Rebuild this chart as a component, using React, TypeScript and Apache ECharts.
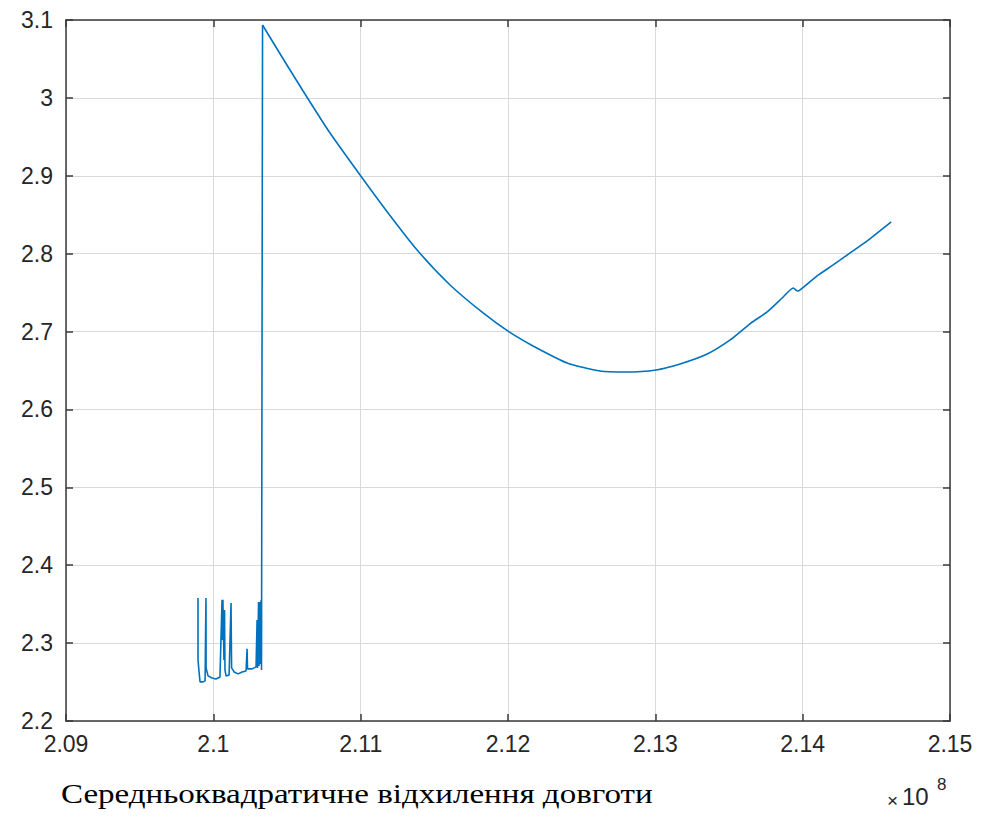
import React, { useEffect, useRef } from "react";
import * as echarts from "echarts";

const xTicks = [2.09, 2.1, 2.11, 2.12, 2.13, 2.14, 2.15];
const yTicks = [2.2, 2.3, 2.4, 2.5, 2.6, 2.7, 2.8, 2.9, 3.0, 3.1];

// noisy start (x in units of 10^8)
const spikeX = [
  2.09896, 2.09896, 2.09903, 2.0991, 2.0993, 2.09944, 2.0995, 2.09951, 2.09964, 2.09991,
  2.10018, 2.10045, 2.10059, 2.10062, 2.10065, 2.10072, 2.10076, 2.10079, 2.10086, 2.10107,
  2.1012, 2.10124, 2.10141, 2.10168, 2.10195, 2.10222, 2.10229, 2.10232, 2.10263, 2.1029,
  2.10297, 2.103, 2.10307, 2.1031, 2.10317, 2.1032, 2.10324, 2.10327, 2.10334,
];
const spikeY = [
  2.358, 2.2784, 2.263, 2.2502, 2.2502, 2.2515, 2.358, 2.2682, 2.2579, 2.2553,
  2.254, 2.2566, 2.3555, 2.3041, 2.3555, 2.2784, 2.3426, 2.2656, 2.2579, 2.2592,
  2.3516, 2.2682, 2.263, 2.2605, 2.263, 2.2643, 2.2926, 2.2669, 2.2669, 2.2695,
  2.3298, 2.2682, 2.3529, 2.2707, 2.3529, 2.2733, 2.3555, 2.2656, 3.0936,
];

// smooth part after the jump
const curveX = [
  2.10334, 2.10466, 2.10609, 2.10792, 2.10996, 2.11186, 2.11383, 2.11607, 2.11831, 2.12008,
  2.1217, 2.12401, 2.12625, 2.12795, 2.13005, 2.13168, 2.13352, 2.13508, 2.13644, 2.13759,
  2.13868, 2.13936, 2.13963, 2.13983, 2.14098, 2.14207, 2.14322, 2.14438, 2.14601,
];
const curveY = [
  3.0936, 3.0525, 3.0089, 2.9549, 2.901, 2.8522, 2.8047, 2.7598, 2.7239, 2.6995,
  2.6815, 2.6597, 2.6494, 2.6481, 2.6507, 2.6584, 2.6712, 2.6893, 2.7102, 2.7252,
  2.7444, 2.756, 2.7521, 2.7534, 2.7714, 2.7855, 2.8009, 2.8163, 2.8407,
];

const xName = "Середньоквадратичне відхилення довготи";
const xExponent = "8";

export default function App() {
  const ref = useRef<HTMLDivElement>(null);
  useEffect(() => {
    const chart = echarts.init(ref.current!, null, { renderer: "svg" });
    const spikePts = spikeX.map((x, i) => [x, spikeY[i]]);
    const curvePts = curveX.map((x, i) => [x, curveY[i]]);
    const fmt = (v: number) => String(parseFloat(v.toFixed(4)));
    const axisColor = "#3a3a3a";
    const labelStyle = {
      fontFamily: "Liberation Sans",
      fontSize: 23,
      color: "#262626",
    };
    const xBase = {
      type: "value",
      min: xTicks[0],
      max: xTicks[xTicks.length - 1],
      interval: 0.01,
      axisLine: { show: true, onZero: false, lineStyle: { color: axisColor, width: 1.5 } },
      axisTick: { show: true, inside: true, length: 7, lineStyle: { color: axisColor, width: 1.5 } },
    };
    const yBase = {
      type: "value",
      min: yTicks[0],
      max: yTicks[yTicks.length - 1],
      interval: 0.1,
      axisLine: { show: true, onZero: false, lineStyle: { color: axisColor, width: 1.5 } },
      axisTick: { show: true, inside: true, length: 7, lineStyle: { color: axisColor, width: 1.5 } },
    };
    const lineStyle = { color: "#0072BD", width: 1.6 };
    chart.setOption({
      animation: false,
      backgroundColor: "#ffffff",
      grid: { left: 66, right: 38, top: 20, bottom: 96, containLabel: false },
      xAxis: [
        {
          ...xBase,
          position: "bottom",
          axisLabel: { ...labelStyle, margin: 11, formatter: fmt },
          splitLine: { show: true, lineStyle: { color: "#d9d9d9", width: 1 } },
        },
        {
          ...xBase,
          position: "top",
          axisLabel: { show: false },
          splitLine: { show: false },
        },
      ],
      yAxis: [
        {
          ...yBase,
          position: "left",
          axisLabel: { ...labelStyle, margin: 13, formatter: fmt },
          splitLine: { show: true, lineStyle: { color: "#d9d9d9", width: 1 } },
        },
        {
          ...yBase,
          position: "right",
          axisLabel: { show: false },
          splitLine: { show: false },
        },
      ],
      series: [
        {
          type: "line",
          xAxisIndex: 0,
          yAxisIndex: 0,
          data: spikePts,
          showSymbol: false,
          symbol: "none",
          lineStyle,
          silent: true,
        },
        {
          type: "line",
          xAxisIndex: 0,
          yAxisIndex: 0,
          data: curvePts,
          showSymbol: false,
          symbol: "none",
          smooth: 0.2,
          lineStyle,
          silent: true,
        },
      ],
      graphic: [
        {
          type: "text",
          left: 61,
          top: 780,
          scaleX: 1.18,
          style: {
            text: xName,
            font: '28px "Liberation Serif"',
            fill: "#000000",
          },
        },
        {
          type: "text",
          left: 887,
          top: 791,
          style: { text: "×", font: '19px "Liberation Sans"', fill: "#262626" },
        },
        {
          type: "text",
          left: 902,
          top: 784,
          style: { text: "10", font: '24px "Liberation Sans"', fill: "#262626" },
        },
        {
          type: "text",
          left: 937,
          top: 776,
          style: { text: xExponent, font: '17px "Liberation Sans"', fill: "#262626" },
        },
      ],
    });
    return () => chart.dispose();
  }, []);
  return (
    <div
      ref={ref}
      style={{ position: "absolute", left: 0, top: 0, width: 988, height: 817, background: "#fff" }}
    />
  );
}
